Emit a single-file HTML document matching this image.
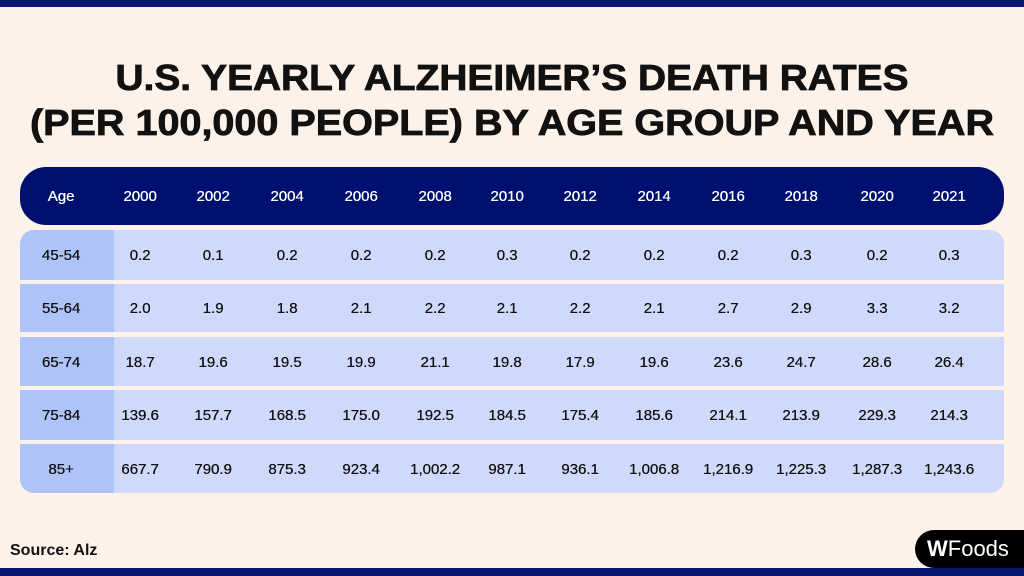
<!DOCTYPE html>
<html><head><meta charset="utf-8"><style>
body{margin:0;width:1024px;height:576px;overflow:hidden;background:#fdf2e9;font-family:"Liberation Sans",sans-serif;position:relative}
.bar{position:absolute;left:0;width:1024px;background:#0a1770}
.hdr{position:absolute;left:20px;top:167px;width:984px;height:58px;background:#001070;border-radius:26px}
</style></head><body>
<div class="bar" style="top:0;height:7px"></div>
<div class="bar" style="top:568px;height:8px"></div>
<svg width="1024" height="160" style="position:absolute;left:0;top:0">
<text x="512" y="90" text-anchor="middle" font-family="Liberation Sans" font-weight="bold" font-size="36" fill="#111" stroke="#111" stroke-width="0.8" textLength="793" lengthAdjust="spacingAndGlyphs">U.S. YEARLY ALZHEIMER’S DEATH RATES</text>
<text x="512" y="135" text-anchor="middle" font-family="Liberation Sans" font-weight="bold" font-size="36" fill="#111" stroke="#111" stroke-width="0.8" textLength="964" lengthAdjust="spacingAndGlyphs">(PER 100,000 PEOPLE) BY AGE GROUP AND YEAR</text>
</svg>
<div class="hdr"></div>
<div id="tbl"></div>
<div style="position:absolute;left:10px;top:542px;font-size:16px;font-weight:bold;color:#111">Source: Alz</div>
<div style="position:absolute;left:915px;top:530px;width:109px;height:38px;background:#000;border-radius:19px 0 0 19px;color:#fff;font-size:22px;line-height:38px;padding-left:12px;box-sizing:border-box;font-weight:bold">W<span style="font-weight:normal">Foods</span></div>
<script>
const years=["2000","2002","2004","2006","2008","2010","2012","2014","2016","2018","2020","2021"];
const ages=["45-54","55-64","65-74","75-84","85+"];
const values=[
["0.2","0.1","0.2","0.2","0.2","0.3","0.2","0.2","0.2","0.3","0.2","0.3"],
["2.0","1.9","1.8","2.1","2.2","2.1","2.2","2.1","2.7","2.9","3.3","3.2"],
["18.7","19.6","19.5","19.9","21.1","19.8","17.9","19.6","23.6","24.7","28.6","26.4"],
["139.6","157.7","168.5","175.0","192.5","184.5","175.4","185.6","214.1","213.9","229.3","214.3"],
["667.7","790.9","875.3","923.4","1,002.2","987.1","936.1","1,006.8","1,216.9","1,225.3","1,287.3","1,243.6"]];
const colX=[140,213,287,361,435,507,580,654,728,801,877,949];
const rowTop=[230,284,337,390,444],rowH=[50,48,49,50,49];
const T=document.getElementById('tbl');
const TS='text-shadow:0.3px 0 0 currentColor;';
function mk(style,text){const d=document.createElement('div');d.style.cssText=style;if(text)d.textContent=text;T.appendChild(d);return d;}
let h=mk(TS+'position:absolute;left:61px;top:188px;color:#fff;font-size:15px;transform:translateX(-50%)','Age');


years.forEach((y,i)=>{const e=mk(TS+'position:absolute;left:'+colX[i]+'px;top:188px;color:#fff;font-size:15px;transform:translateX(-50%)',y);

});
ages.forEach((a,r)=>{
 const last=r===ages.length-1,first=r===0;
 const rad=first?'14px 14px 0 0':(last?'0 0 14px 14px':'0');
 const row=mk('position:absolute;left:20px;top:'+rowTop[r]+'px;width:984px;height:'+rowH[r]+'px;background:#cfd9fc;border-radius:'+rad+';overflow:hidden');
 
 
 const ac=document.createElement('div');ac.style.cssText='position:absolute;left:0;top:0;width:94px;height:100%;background:#aec3f8';row.appendChild(ac);
 const lbl=mk(TS+'position:absolute;left:61px;top:'+(rowTop[r]+rowH[r]/2-8)+'px;font-size:15px;color:#111;transform:translateX(-50%)',a);
 
 
 values[r].forEach((v,i)=>{const c=mk(TS+'position:absolute;left:'+colX[i]+'px;top:'+(rowTop[r]+rowH[r]/2-8)+'px;font-size:15px;color:#111;transform:translateX(-50%);white-space:nowrap',v);
 
 });
});
</script>
</body></html>
